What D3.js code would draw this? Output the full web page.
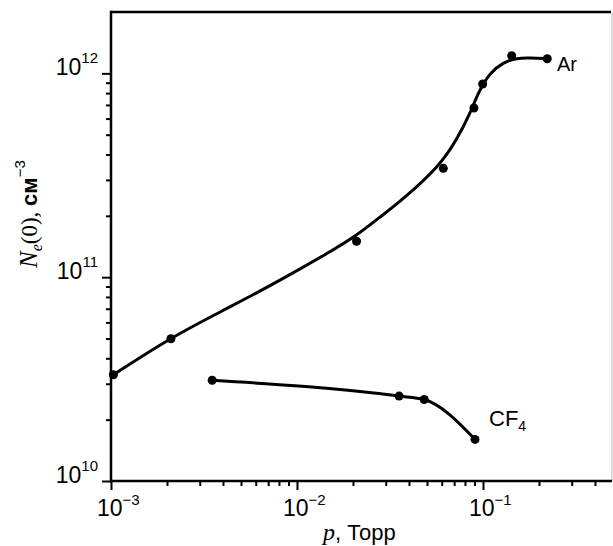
<!DOCTYPE html>
<html>
<head>
<meta charset="utf-8">
<script src="https://cdn.jsdelivr.net/npm/d3@7"></script>
<style>
  body { margin: 0; background: #fff; }
  svg { display: block; }
</style>
</head>
<body>
<svg width="613" height="546"></svg>
<script>
// Ar: measured points
const arP = [0.00103, 0.0021, 0.0209, 0.0612, 0.0894, 0.0996, 0.1427, 0.2216];
const arN = [3.32e10, 4.99e10, 1.50e11, 3.42e11, 6.76e11, 8.87e11, 1.22e12, 1.18e12];

// Ar: smooth guide curve
const arFitP = [0.001, 0.0021, 0.00436, 0.0081, 0.01504, 0.0209, 0.0279, 0.0366, 0.0587,
                0.0722, 0.0851, 0.0943, 0.109, 0.1285, 0.1517, 0.179, 0.2216];
const arFitN = [3.26e10, 5.08e10, 7.13e10, 9.64e10, 1.33e11, 1.60e11, 1.97e11, 2.38e11, 3.52e11,
                4.72e11, 6.32e11, 8.07e11, 1.01e12, 1.13e12, 1.19e12, 1.19e12, 1.18e12];

// CF4
const cfP = [0.0035, 0.0354, 0.0483, 0.0906];
const cfN = [3.12e10, 2.61e10, 2.51e10, 1.60e10];

// ticks
const xMajor = [1e-3, 1e-2, 1e-1];
const xMajorExp = ['\u22123', '\u22122', '\u22121'];
const yMajor = [1e10, 1e11, 1e12];
const yMajorExp = ['10', '11', '12'];

const svg = d3.select('svg');
const margin = { left: 111, right: 1, top: 12, bottom: 65 };
const width = +svg.attr('width');
const height = +svg.attr('height');

const x = d3.scaleLog().domain([1e-3, 0.494]).range([margin.left, width - margin.right]);
const y = d3.scaleLog().domain([1e10, 2e12]).range([height - margin.bottom, margin.top]);

const sans = '"Liberation Sans", Arial, sans-serif';
const serif = '"Liberation Serif", "Times New Roman", serif';

// minor ticks 2..9 per decade inside domain
const minorOf = (scale) => {
  const [a, b] = scale.domain();
  const out = [];
  for (let e = Math.floor(Math.log10(a)); e <= Math.ceil(Math.log10(b)); e++) {
    for (let k = 2; k <= 9; k++) {
      const v = k * Math.pow(10, e);
      if (v > a && v < b) out.push(v);
    }
  }
  return out;
};

const x0 = x.range()[0], x1 = x.range()[1];
const y0 = y.range()[0], y1 = y.range()[1];

// --- frame: top line and a thin grey right edge ---
svg.append('line')
  .attr('x1', x0).attr('x2', x1 - 1).attr('y1', y1).attr('y2', y1)
  .attr('stroke', '#000').attr('stroke-width', 2.5);
svg.append('line')
  .attr('x1', x1).attr('x2', x1).attr('y1', y1).attr('y2', y0)
  .attr('stroke', '#bbb').attr('stroke-width', 1);

// --- axes ---
const styleAxis = (g) => {
  g.select('.domain').remove();
  g.selectAll('.tick line').attr('stroke', '#000').attr('stroke-width', 2);
  g.selectAll('.tick text').remove();
};

svg.append('g')
  .attr('transform', `translate(0, ${y0})`)
  .call(d3.axisBottom(x).tickValues(minorOf(x)).tickSize(5).tickFormat(''))
  .call(styleAxis);
svg.append('g')
  .attr('transform', `translate(0, ${y0})`)
  .call(d3.axisBottom(x).tickValues(xMajor).tickSize(9).tickFormat(''))
  .call(styleAxis);

svg.append('g')
  .attr('transform', `translate(${x0}, 0)`)
  .call(d3.axisLeft(y).tickValues(minorOf(y)).tickSize(5).tickFormat(''))
  .call(styleAxis);
svg.append('g')
  .attr('transform', `translate(${x0}, 0)`)
  .call(d3.axisLeft(y).tickValues(yMajor).tickSize(9).tickFormat(''))
  .call(styleAxis);

svg.append('line')
  .attr('x1', x0).attr('x2', x1).attr('y1', y0).attr('y2', y0)
  .attr('stroke', '#000').attr('stroke-width', 2.5);
svg.append('line')
  .attr('x1', x0).attr('x2', x0).attr('y1', y1 - 1.2).attr('y2', y0 + 1.2)
  .attr('stroke', '#000').attr('stroke-width', 2.5);

// tick labels
xMajor.forEach((v, i) => {
  const t = svg.append('text')
    .attr('x', x(v) - 14)
    .attr('y', y0 + 35)
    .style('font-family', sans)
    .style('font-size', '23px');
  t.append('tspan').text('10');
  t.append('tspan').attr('dy', -11).style('font-size', '15px').text(xMajorExp[i]);
});

yMajor.forEach((v, i) => {
  const t = svg.append('text')
    .attr('x', x0 - 13)
    .attr('y', y(v) + 2)
    .attr('text-anchor', 'end')
    .style('font-family', sans)
    .style('font-size', '23px');
  t.append('tspan').text('10');
  t.append('tspan').attr('dy', -12).style('font-size', '15px').text(yMajorExp[i]);
});

// axis titles
const xt = svg.append('text')
  .attr('x', 323)
  .attr('y', 540)
  .style('font-size', '22px');
xt.append('tspan').style('font-family', serif).style('font-style', 'italic').style('font-size', '24px').text('p');
xt.append('tspan').style('font-family', sans).text(', Торр');

const yt = svg.append('text')
  .attr('transform', 'translate(37, 268) rotate(-90)')
  .style('font-size', '22px');
yt.append('tspan').style('font-family', serif).style('font-style', 'italic')
  .style('font-size', '25px').text('N');
yt.append('tspan').attr('dy', 5).style('font-family', serif).style('font-style', 'italic')
  .style('font-size', '16px').text('e');
yt.append('tspan').attr('dy', -5).style('font-family', serif).style('font-size', '23px').text('(0), ');
yt.append('tspan').style('font-family', sans).style('font-weight', 'bold').text('см');
yt.append('tspan').attr('dy', -12).style('font-family', sans).style('font-size', '15px').text('\u22123');

// --- curves ---
const fitLine = d3.line()
  .x(d => x(d[0]))
  .y(d => y(d[1]))
  .curve(d3.curveBasis);

const cfLine = d3.line()
  .x(d => x(d[0]))
  .y(d => y(d[1]))
  .curve(d3.curveMonotoneX);

svg.append('path')
  .datum(arFitP.map((p, i) => [p, arFitN[i]]))
  .attr('d', fitLine)
  .attr('fill', 'none')
  .attr('stroke', '#000')
  .attr('stroke-width', 3);

svg.append('path')
  .datum(cfP.map((p, i) => [p, cfN[i]]))
  .attr('d', cfLine)
  .attr('fill', 'none')
  .attr('stroke', '#000')
  .attr('stroke-width', 3);

// --- points ---
svg.selectAll('.pt-ar')
  .data(arP.map((p, i) => [p, arN[i]]))
  .enter()
  .append('circle')
  .attr('class', 'pt-ar')
  .attr('cx', d => x(d[0]))
  .attr('cy', d => y(d[1]))
  .attr('r', 4.5)
  .attr('fill', '#000');

svg.selectAll('.pt-cf')
  .data(cfP.map((p, i) => [p, cfN[i]]))
  .enter()
  .append('circle')
  .attr('class', 'pt-cf')
  .attr('cx', d => x(d[0]))
  .attr('cy', d => y(d[1]))
  .attr('r', 4.5)
  .attr('fill', '#000');

// --- series labels ---
svg.append('text')
  .attr('x', 557)
  .attr('y', 71)
  .style('font-family', sans)
  .style('font-size', '20px')
  .text('Ar');

const cf = svg.append('text')
  .attr('x', 489)
  .attr('y', 426)
  .style('font-family', sans)
  .style('font-size', '22px');
cf.append('tspan').text('CF');
cf.append('tspan').attr('dy', 5).style('font-size', '14px').text('4');
</script>
</body>
</html>
